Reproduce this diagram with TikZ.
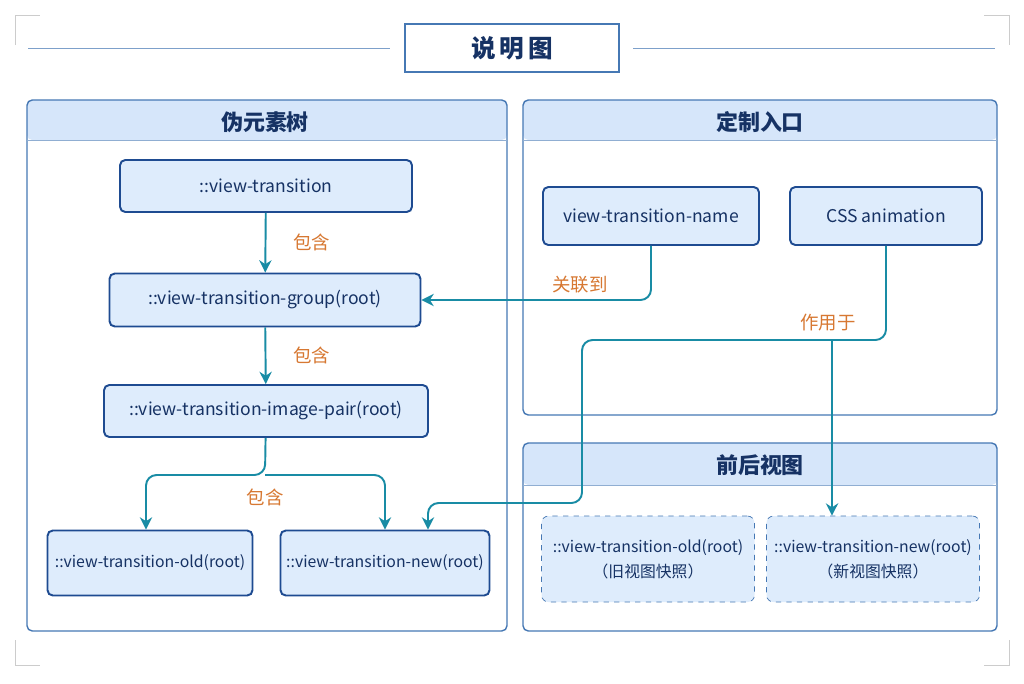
\documentclass[tikz,border=0pt]{standalone}
\usepackage{fontspec}
\setmainfont{Noto Sans CJK SC}
\usetikzlibrary{positioning,arrows.meta}
\definecolor{navy}{RGB}{22,50,100}
\definecolor{edge}{RGB}{30,75,145}
\definecolor{frame}{RGB}{70,120,180}
\definecolor{boxfill}{RGB}{222,236,252}
\definecolor{headfill}{RGB}{214,230,250}
\definecolor{teal}{RGB}{25,140,165}
\definecolor{lblorange}{RGB}{215,120,50}
\tikzset{
  box/.style={draw=edge, line width=1.1pt, fill=boxfill, rounded corners=3pt, inner xsep=2pt, font=\fontsize{10}{12}\selectfont, text=navy},
  snap/.style={draw=frame, dashed, fill=boxfill, rounded corners=4pt, inner xsep=2pt, font=\fontsize{9}{14}\selectfont, text=navy, align=center},
  panel/.style={draw=frame, line width=0.8pt, rounded corners=3pt},
  head/.style={font=\bfseries\fontsize{12.5}{14}\selectfont, text=navy},
  link/.style={draw=teal, line width=1.1pt, rounded corners=6pt, -{Stealth[length=7pt,width=7pt]}},
  lbl/.style={text=lblorange, font=\fontsize{10.5}{12}\selectfont}
}
\begin{document}
\begin{tikzpicture}[x=0.02cm,y=-0.02cm]
\useasboundingbox (0,0) rectangle (1024,683);
\fill[white] (0,0) rectangle (1024,683);
% title
\draw[gray!40] (15,45) -- (15,15) -- (40,15);
\draw[gray!40] (984,15) -- (1009,15) -- (1009,45);
\draw[gray!40] (15,640) -- (15,665) -- (40,665);
\draw[gray!40] (984,665) -- (1009,665) -- (1009,640);
\draw[frame!70] (28,48) -- (390,48);
\draw[frame!70] (633,48) -- (995,48);
\node (title) [draw=frame, line width=0.8pt, minimum width=214*0.02cm, minimum height=48*0.02cm, font=\bfseries\fontsize{14}{16}\selectfont, text=navy] at (512,48) {说\,明\,图};
% panels
\fill[headfill, rounded corners=3pt] (27,100) rectangle (507,140);
\fill[headfill, rounded corners=3pt] (523,100) rectangle (997,140);
\fill[headfill, rounded corners=3pt] (523,443) rectangle (997,485);
\draw[panel] (27,100) rectangle (507,631);
\draw[frame!60] (27,140) -- (507,140);
\draw[panel] (523,100) rectangle (997,415);
\draw[frame!60] (523,140) -- (997,140);
\draw[panel] (523,443) rectangle (997,631);
\draw[frame!60] (523,485) -- (997,485);
\node (tree) [head] at (265,122) {伪元素树};
\node (entry) [head] at (760,122) {定制入口};
\node (views) [head] at (760,465) {前后视图};
% tree nodes
\node (vt) [box, minimum width=292*0.02cm, minimum height=52*0.02cm] at (266,186) {::view-transition};
\node (grp) [box, minimum width=311*0.02cm, minimum height=53*0.02cm] at (265,300) {::view-transition-group(root)};
\node (pair) [box, minimum width=324*0.02cm, minimum height=52*0.02cm] at (266,411) {::view-transition-image-pair(root)};
\node (old) [box, font=\fontsize{9}{11}\selectfont, minimum width=205*0.02cm, minimum height=65*0.02cm] at (150,563) {::view-transition-old(root)};
\node (new) [box, font=\fontsize{9}{11}\selectfont, minimum width=209*0.02cm, minimum height=65*0.02cm] at (385,563) {::view-transition-new(root)};
% entry nodes
\node (vtname) [box, minimum width=216*0.02cm, minimum height=58*0.02cm] at (651,216) {view-transition-name};
\node (css) [box, minimum width=192*0.02cm, minimum height=58*0.02cm] at (886,216) {CSS animation};
% snapshots
\node (snapold) [snap, minimum width=213*0.02cm, minimum height=86*0.02cm] at (648,559) {::view-transition-old(root)\\（旧视图快照）};
\node (snapnew) [snap, minimum width=213*0.02cm, minimum height=86*0.02cm] at (873,559) {::view-transition-new(root)\\（新视图快照）};
% connectors
\draw[link] (vt) -- (grp) node[lbl, midway, right=12pt] {包含};
\draw[link] (grp) -- (pair) node[lbl, midway, right=12pt] {包含};
\coordinate (split) at (265,475);
\draw[link] (pair) -- (split) -| (old.north -| 146,0);
\draw[link] (split) -| (new);
\node[lbl] at (265,497) {包含};
\draw[link] (vtname.south) |- (grp.east);
\node[lbl] at (580,285) {关联到};
\draw[link] (css.south) |- (582,340) |- (428,503) -- (new.north -| 428,0);
\draw[link, rounded corners=0pt] (832,340) -- (snapnew.north -| 832,0);
\node[lbl] at (828,323) {作用于};
\end{tikzpicture}
\end{document}
